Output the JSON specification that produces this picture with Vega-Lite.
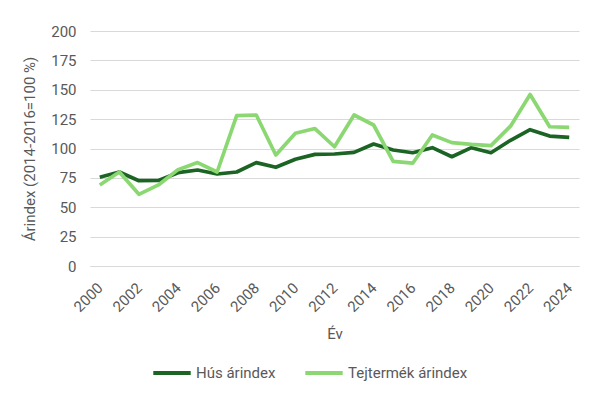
{
  "$schema": "https://vega.github.io/schema/vega-lite/v6.json",
  "width": 489,
  "height": 235,
  "padding": {"left": 22, "top": 24, "right": 20, "bottom": 10},
  "background": "white",
  "config": {
    "font": "Roboto",
    "view": {"stroke": null},
    "axis": {"labelColor": "#595959", "titleColor": "#595959", "labelFontSize": 15, "titleFontSize": 15, "titleFontWeight": "normal", "gridColor": "#d9d9d9", "domain": false, "ticks": false},
    "legend": {"labelColor": "#595959", "labelFontSize": 15}
  },
  "data": {
    "values": [
      {"ev": 2000, "sorozat": "Hús árindex", "ertek": 75.5},
      {"ev": 2001, "sorozat": "Hús árindex", "ertek": 80},
      {"ev": 2002, "sorozat": "Hús árindex", "ertek": 72.6},
      {"ev": 2003, "sorozat": "Hús árindex", "ertek": 72.8},
      {"ev": 2004, "sorozat": "Hús árindex", "ertek": 79.4},
      {"ev": 2005, "sorozat": "Hús árindex", "ertek": 81.7},
      {"ev": 2006, "sorozat": "Hús árindex", "ertek": 78.3},
      {"ev": 2007, "sorozat": "Hús árindex", "ertek": 80},
      {"ev": 2008, "sorozat": "Hús árindex", "ertek": 88},
      {"ev": 2009, "sorozat": "Hús árindex", "ertek": 84},
      {"ev": 2010, "sorozat": "Hús árindex", "ertek": 90.8},
      {"ev": 2011, "sorozat": "Hús árindex", "ertek": 95},
      {"ev": 2012, "sorozat": "Hús árindex", "ertek": 95.3},
      {"ev": 2013, "sorozat": "Hús árindex", "ertek": 96.7},
      {"ev": 2014, "sorozat": "Hús árindex", "ertek": 103.8},
      {"ev": 2015, "sorozat": "Hús árindex", "ertek": 98.7},
      {"ev": 2016, "sorozat": "Hús árindex", "ertek": 96.4},
      {"ev": 2017, "sorozat": "Hús árindex", "ertek": 100.7},
      {"ev": 2018, "sorozat": "Hús árindex", "ertek": 93},
      {"ev": 2019, "sorozat": "Hús árindex", "ertek": 100.7},
      {"ev": 2020, "sorozat": "Hús árindex", "ertek": 96.4},
      {"ev": 2021, "sorozat": "Hús árindex", "ertek": 107},
      {"ev": 2022, "sorozat": "Hús árindex", "ertek": 116},
      {"ev": 2023, "sorozat": "Hús árindex", "ertek": 110.6},
      {"ev": 2024, "sorozat": "Hús árindex", "ertek": 109.5},
      {"ev": 2000, "sorozat": "Tejtermék árindex", "ertek": 69},
      {"ev": 2001, "sorozat": "Tejtermék árindex", "ertek": 80},
      {"ev": 2002, "sorozat": "Tejtermék árindex", "ertek": 61},
      {"ev": 2003, "sorozat": "Tejtermék árindex", "ertek": 69},
      {"ev": 2004, "sorozat": "Tejtermék árindex", "ertek": 82},
      {"ev": 2005, "sorozat": "Tejtermék árindex", "ertek": 88},
      {"ev": 2006, "sorozat": "Tejtermék árindex", "ertek": 80},
      {"ev": 2007, "sorozat": "Tejtermék árindex", "ertek": 128},
      {"ev": 2008, "sorozat": "Tejtermék árindex", "ertek": 128.5},
      {"ev": 2009, "sorozat": "Tejtermék árindex", "ertek": 94.5},
      {"ev": 2010, "sorozat": "Tejtermék árindex", "ertek": 113},
      {"ev": 2011, "sorozat": "Tejtermék árindex", "ertek": 117},
      {"ev": 2012, "sorozat": "Tejtermék árindex", "ertek": 101.5},
      {"ev": 2013, "sorozat": "Tejtermék árindex", "ertek": 128.5},
      {"ev": 2014, "sorozat": "Tejtermék árindex", "ertek": 120},
      {"ev": 2015, "sorozat": "Tejtermék árindex", "ertek": 89},
      {"ev": 2016, "sorozat": "Tejtermék árindex", "ertek": 87.5},
      {"ev": 2017, "sorozat": "Tejtermék árindex", "ertek": 111.5},
      {"ev": 2018, "sorozat": "Tejtermék árindex", "ertek": 105},
      {"ev": 2019, "sorozat": "Tejtermék árindex", "ertek": 103.5},
      {"ev": 2020, "sorozat": "Tejtermék árindex", "ertek": 102.4},
      {"ev": 2021, "sorozat": "Tejtermék árindex", "ertek": 119},
      {"ev": 2022, "sorozat": "Tejtermék árindex", "ertek": 146},
      {"ev": 2023, "sorozat": "Tejtermék árindex", "ertek": 118.5},
      {"ev": 2024, "sorozat": "Tejtermék árindex", "ertek": 118}
    ]
  },
  "mark": {"type": "line", "strokeWidth": 3.7, "strokeJoin": "round"},
  "encoding": {
    "x": {
      "field": "ev", "type": "ordinal", "title": "Év",
      "scale": {"type": "point", "padding": 0.5},
      "axis": {"values": [2000, 2002, 2004, 2006, 2008, 2010, 2012, 2014, 2016, 2018, 2020, 2022, 2024], "labelAngle": -45, "labelAlign": "right", "labelBaseline": "middle", "labelPadding": 19, "titlePadding": 12, "grid": false, "domain": true, "domainColor": "#d9d9d9"}
    },
    "y": {
      "field": "ertek", "type": "quantitative", "title": "Árindex (2014-2016=100 %)",
      "scale": {"domain": [0, 200]},
      "axis": {"values": [0, 25, 50, 75, 100, 125, 150, 175, 200], "labelPadding": 14, "titlePadding": 13}
    },
    "color": {
      "field": "sorozat", "type": "nominal",
      "scale": {"domain": ["Hús árindex", "Tejtermék árindex"], "range": ["#1b6424", "#8bd872"]},
      "legend": {"orient": "none", "legendX": 61, "legendY": 321, "direction": "horizontal", "title": null, "symbolType": "stroke", "symbolStrokeWidth": 4, "symbolSize": 1400, "columnPadding": 21, "labelOffset": 3}
    }
  }
}
